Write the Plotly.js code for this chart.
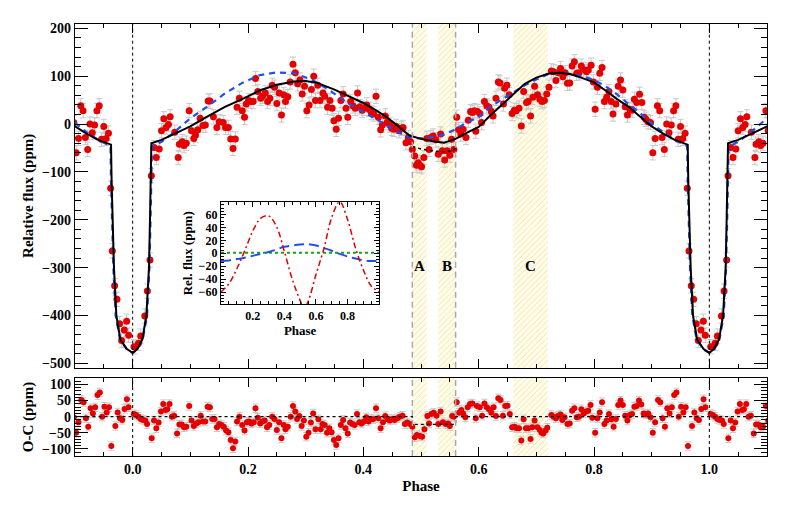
<!DOCTYPE html>
<html><head><meta charset="utf-8">
<script src="https://cdn.plot.ly/plotly-3.0.1.min.js"></script>
<style>body{margin:0;background:#fff}#chart{width:789px;height:507px}</style>
</head><body><div id="chart"></div>
<script>
// ---------- data (phase in [0,1); plotted folded over -0.1..1.1) ----------
const dataPhase = [0.0024,0.010,0.014,0.021,0.0255,0.030,0.0324,0.037,0.041,0.046,0.050,0.054,0.058,0.062,0.065,0.073,0.079,0.081,0.086,0.089,0.093,0.098,0.102,0.106,0.109,0.113,0.117,0.122,0.126,0.131,0.134,0.140,0.146,0.150,0.157,0.161,0.166,0.170,0.174,0.178,0.181,0.185,0.190,0.194,0.197,0.201,0.205,0.209,0.213,0.217,0.222,0.225,0.230,0.234,0.238,0.242,0.246,0.250,0.254,0.258,0.262,0.265,0.269,0.273,0.278,0.282,0.286,0.290,0.294,0.298,0.302,0.306,0.310,0.314,0.317,0.321,0.325,0.330,0.333,0.338,0.342,0.346,0.349,0.353,0.357,0.361,0.365,0.370,0.373,0.378,0.382,0.386,0.390,0.394,0.398,0.401,0.406,0.410,0.414,0.418,0.422,0.426,0.430,0.433,0.438,0.441,0.446,0.449,0.453,0.457,0.462,0.466,0.469,0.474,0.478,0.482,0.485,0.489,0.492,0.495,0.498,0.501,0.505,0.510,0.514,0.517,0.521,0.526,0.530,0.534,0.537,0.541,0.545,0.550,0.553,0.557,0.562,0.565,0.569,0.573,0.578,0.582,0.586,0.589,0.593,0.595,0.598,0.602,0.605,0.610,0.614,0.618,0.622,0.625,0.630,0.634,0.637,0.643,0.645,0.649,0.653,0.658,0.662,0.665,0.670,0.674,0.678,0.683,0.686,0.690,0.694,0.697,0.702,0.706,0.710,0.714,0.718,0.722,0.726,0.730,0.734,0.738,0.742,0.746,0.750,0.754,0.758,0.762,0.766,0.770,0.774,0.778,0.782,0.787,0.790,0.795,0.799,0.802,0.806,0.810,0.814,0.818,0.822,0.826,0.830,0.833,0.838,0.842,0.846,0.850,0.854,0.858,0.862,0.866,0.870,0.874,0.879,0.883,0.887,0.890,0.894,0.898,0.902,0.906,0.910,0.914,0.918,0.922,0.926,0.930,0.934,0.938,0.942,0.946,0.950,0.954,0.958,0.9618,0.9647,0.9687,0.9728,0.9774,0.9809,0.9855,0.9896,0.993];
const dataFlux = [-465,-458,-443,-401,-349,-284,-108,-49,-70,-52,-14,11,-7,-1,15,-17,-70,-42,-37,-45,-40,28,-14,-30,-23,-12,12,-3,-2,48,48,15,-7,5,3,-7,-7,-31,-51,-31,35,54,28,14,42,49,47,47,95,68,54,58,65,47,54,81,77,43,65,19,61,47,57,88,125,107,84,92,63,79,28,40,72,100,49,81,49,65,58,35,49,33,7,-11,12,49,63,33,14,47,38,33,65,36,29,33,40,31,24,21,58,14,-12,-2,17,3,-2,-9,-11,-5,-14,-9,-7,-39,-28,-37,-53,-67,-86,-81,-86,-89,-70,-30,-53,-28,-25,-33,-63,-21,-56,-75,-56,-65,-32,-53,14,-12,-21,-11,-28,8,26,24,28,-15,26,22,3,47,38,35,26,17,54,88,86,42,75,81,61,22,29,28,33,-4,68,45,47,17,56,79,61,52,47,49,63,77,111,109,91,107,116,99,107,85,86,121,130,106,107,121,114,109,113,123,88,31,77,106,118,47,56,68,47,21,42,79,92,71,36,19,31,29,52,45,62,45,14,10,5,3,-60,-30,38,28,-28,-53,0,-18,-2,28,38,-32,-5,-30,-19,-134,-265,-338,-366,-417,-452,-430,-412,-441];
const fluxError = 15;

const ocPhase = [0.002,0.006,0.010,0.014,0.018,0.022,0.025,0.033,0.037,0.041,0.045,0.049,0.053,0.057,0.060,0.064,0.068,0.072,0.077,0.081,0.085,0.089,0.093,0.098,0.102,0.106,0.110,0.114,0.118,0.122,0.126,0.130,0.134,0.138,0.142,0.146,0.150,0.154,0.158,0.162,0.166,0.170,0.174,0.178,0.181,0.185,0.190,0.194,0.198,0.202,0.206,0.210,0.213,0.217,0.221,0.225,0.229,0.233,0.237,0.242,0.246,0.250,0.254,0.258,0.262,0.265,0.269,0.274,0.278,0.282,0.285,0.289,0.293,0.297,0.301,0.305,0.309,0.313,0.317,0.322,0.326,0.329,0.333,0.337,0.341,0.345,0.349,0.353,0.357,0.361,0.365,0.369,0.373,0.377,0.381,0.385,0.389,0.393,0.397,0.401,0.405,0.409,0.413,0.417,0.422,0.426,0.430,0.434,0.438,0.442,0.446,0.450,0.454,0.459,0.463,0.468,0.472,0.476,0.481,0.485,0.489,0.493,0.498,0.502,0.506,0.511,0.514,0.518,0.522,0.527,0.530,0.534,0.538,0.543,0.547,0.550,0.554,0.557,0.562,0.566,0.570,0.573,0.577,0.581,0.585,0.589,0.595,0.597,0.602,0.606,0.610,0.614,0.618,0.622,0.626,0.630,0.634,0.638,0.642,0.646,0.650,0.654,0.658,0.662,0.666,0.670,0.674,0.678,0.682,0.686,0.690,0.693,0.697,0.702,0.706,0.709,0.712,0.716,0.719,0.726,0.730,0.734,0.738,0.742,0.745,0.749,0.754,0.758,0.762,0.766,0.770,0.774,0.778,0.782,0.786,0.790,0.794,0.797,0.802,0.806,0.810,0.814,0.818,0.822,0.826,0.830,0.834,0.838,0.842,0.846,0.850,0.854,0.858,0.862,0.866,0.870,0.874,0.878,0.882,0.886,0.890,0.894,0.898,0.902,0.906,0.911,0.915,0.919,0.923,0.927,0.931,0.935,0.939,0.943,0.947,0.951,0.955,0.959,0.963,0.970,0.974,0.978,0.982,0.986,0.990,0.993];
const ocValue = [8,5,0,-7,-10,-12,-23,-67,-12,-36,-18,16,39,21,23,39,0,3,-52,-24,-24,-33,-31,33,-12,-29,-21,-17,3,-15,-15,31,29,-7,-7,-33,-23,-26,-31,-43,-48,-72,-98,-77,-15,0,-26,-43,-17,-15,-21,-17,26,-3,-21,-15,-12,-33,-26,0,-7,-41,-17,-67,-26,-39,-31,0,33,16,-7,2,-29,-12,-62,-50,-18,10,-39,-8,-39,-23,-26,-50,-36,-48,-72,-88,-67,-26,-10,-36,-52,-18,-23,-26,8,-17,-21,-15,-2,-15,-7,-8,26,-5,-36,-17,2,-8,-12,-7,-10,-5,0,3,-23,-18,-23,-31,-64,-57,-60,-62,-39,2,-21,8,12,3,-23,16,-17,-23,-21,-29,2,0,45,12,21,10,-2,29,39,41,-5,33,29,3,41,29,23,12,29,2,57,52,3,33,34,8,-33,-31,-36,-36,-74,-8,-36,-36,-69,-33,-12,-33,-41,-50,-52,-43,-34,5,0,-5,3,7,-10,-2,-23,-21,18,26,-2,0,23,10,16,18,36,-3,-50,-5,13,45,-23,-12,8,-8,-31,-7,36,50,36,3,-12,5,8,31,33,50,38,10,7,10,-2,-50,-17,52,45,-5,-31,26,10,29,67,75,0,31,13,29,-91,-29,13,-5,-10,24,54,29];
const ocError = 13;

// full model (solid black)
const modelPhase = [0,0.008,0.0168,0.0238,0.0283,0.030,0.0315,0.0324,0.05,0.07,0.10,0.13,0.16,0.19,0.22,0.25,0.28,0.30,0.32,0.35,0.38,0.40,0.42,0.44,0.46,0.48,0.50,0.52,0.54,0.56,0.58,0.60,0.62,0.64,0.66,0.68,0.70,0.72,0.74,0.76,0.78,0.80,0.82,0.84,0.86,0.88,0.90,0.92,0.94,0.96,0.9625,0.9635,0.965,0.9676,0.9717,0.9787,0.99,1];
const modelFlux  = [-478,-470,-450,-400,-300,-200,-110,-40,-33,-22,-5,16,36,52,70,82,89,90,86,72,56,44,30,15,-4,-24,-31,-36,-39,-31,-18,-6,18,40,64,84,97,105,107,104,96,87,70,52,36,16,-5,-20,-33,-42,-43,-120,-200,-300,-400,-450,-470,-478];
// alternative model (dashed blue)
const altPhase = [0,0.009,0.0175,0.025,0.029,0.031,0.032,0.0335,0.05,0.07,0.10,0.13,0.16,0.19,0.22,0.25,0.28,0.31,0.34,0.37,0.40,0.43,0.46,0.48,0.50,0.52,0.54,0.56,0.58,0.60,0.62,0.64,0.66,0.68,0.70,0.72,0.74,0.76,0.78,0.80,0.82,0.84,0.86,0.88,0.90,0.92,0.94,0.96,0.9615,0.9625,0.964,0.9665,0.9705,0.978,0.99,1];
const altFlux  = [-478,-470,-450,-400,-300,-200,-120,-48,-37,-19,12,37,64,86,102,108,106,93,72,46,25,5,-17,-28,-30,-27,-22,-11,4,14,36,51,66,81,93,104,107,105,100,92,79,62,42,23,1,-17,-33,-44,-46,-120,-200,-300,-400,-450,-471,-478];
// model with eclipse (dotted black)
const eclPhase = [0.485,0.50,0.52,0.54,0.555,0.56];
const eclFlux  = [-47,-52,-56,-58,-56,-50];
// O-C reference (dotted)
const ocRefPhase = [0,0.485,0.485,0.56,0.56,1];
const ocRefValue = [0,0,-24,-24,0,0];

// highlighted phase windows
const regionStart = [0.485,0.53,0.66];
const regionEnd   = [0.51,0.56,0.72];
const regionLabel = ['A','B','C'];
const edgePhase   = [0.485,0.56];
const transitPhase = [0,1];

// inset components
const insetPhase = [0,0.05,0.10,0.15,0.20,0.25,0.30,0.35,0.40,0.45,0.50,0.525,0.55,0.60,0.65,0.70,0.75,0.80,0.85,0.90,0.95,1.0];
const insetRed   = [-60,-47,-24,4,34,54,58,42,3,-40,-73,-85,-75,-33,7,56,80,52,8,-26,-51,-60];
const insetBlue  = [-12,-11,-9,-7,-4,-1,2,6,10,12,13.5,14,14,12,8,4,-1,-5,-8,-11,-12,-12];
const insetGreen = [1,1,1,1,1,1,1,1,1,1,1,1,1,1,1,1,1,1,1,1,1,1];

// ---------- helpers ----------
function fold(xs, ys){
  const X=[],Y=[];
  [-1,0,1].forEach(s=>xs.forEach((x,i)=>{X.push(+(x+s).toFixed(5));Y.push(ys[i]);}));
  return [X,Y];
}
const FONT = 'Liberation Serif, Times New Roman, serif';
const RED = '#e50000';

const traces = [];
// hatched windows (both panels)
regionStart.forEach((s,i)=>{
  const e = regionEnd[i];
  ['y','y2'].forEach((ya,k)=>{
    traces.push({x:[s,e,e,s,s], y:[-1e4,-1e4,1e4,1e4,-1e4], xaxis:k?'x2':'x', yaxis:ya,
      mode:'lines', fill:'toself', line:{width:0}, fillcolor:'#fffdf0',
      fillpattern:{shape:'/', fgcolor:'#f6df86', bgcolor:'#fffdf0', size:4, solidity:0.22},
      hoverinfo:'skip', showlegend:false});
  });
});
// main data
let [dx,dy] = fold(dataPhase, dataFlux);
traces.push({x:dx, y:dy, xaxis:'x', yaxis:'y', mode:'markers', type:'scatter',
  marker:{color:RED, size:7}, error_y:{type:'constant', value:fluxError, color:'#c8c8c8', thickness:1, width:3},
  showlegend:false});
// models
let [ax,ay] = fold(altPhase, altFlux);
traces.push({x:ax, y:ay, xaxis:'x', yaxis:'y', mode:'lines', line:{color:'#1f4ff0', width:2.2, dash:'6px,5px'}, showlegend:false});
let [mx,my] = fold(modelPhase, modelFlux);
traces.push({x:mx, y:my, xaxis:'x', yaxis:'y', mode:'lines', line:{color:'black', width:2}, showlegend:false});
traces.push({x:eclPhase, y:eclFlux, xaxis:'x', yaxis:'y', mode:'lines', line:{color:'black', width:1.5, dash:'dot'}, showlegend:false});
// residuals
let [ox,oy] = fold(ocPhase, ocValue);
traces.push({x:ox, y:oy, xaxis:'x2', yaxis:'y2', mode:'markers',
  marker:{color:RED, size:6}, error_y:{type:'constant', value:ocError, color:'#c8c8c8', thickness:1, width:3},
  showlegend:false});
let [rx,ry] = fold(ocRefPhase, ocRefValue);
traces.push({x:rx, y:ry, xaxis:'x2', yaxis:'y2', mode:'lines', line:{color:'black', width:1.3, dash:'dot'}, showlegend:false});
// inset
traces.push({x:insetPhase, y:insetGreen, xaxis:'x3', yaxis:'y3', mode:'lines', line:{color:'#1aa31a', width:2, dash:'dot'}, showlegend:false});
traces.push({x:insetPhase, y:insetBlue, xaxis:'x3', yaxis:'y3', mode:'lines', line:{color:'#1f4ff0', width:2, dash:'10px,5px', shape:'spline'}, showlegend:false});
traces.push({x:insetPhase, y:insetRed, xaxis:'x3', yaxis:'y3', mode:'lines', line:{color:'#e00000', width:1.5, dash:'6px,3px,2px,3px', shape:'spline'}, showlegend:false});

const tickFont = {family:FONT, size:14, color:'black', weight:'bold'};
const insetFont = {family:FONT, size:12, color:'black', weight:'bold'};
function axisBase(extra){
  return Object.assign({showline:true, linecolor:'black', linewidth:1.2, mirror:'allticks', ticks:'inside',
    tickcolor:'black', tickwidth:1, showgrid:false, zeroline:false, tickfont:tickFont}, extra);
}
const shapes = [];
transitPhase.forEach(p=>{
  [['x','y domain'],['x2','y2 domain']].forEach(([xr,yr])=>{
    shapes.push({type:'line', xref:xr, yref:yr, x0:p, x1:p, y0:0, y1:1, line:{color:'black', width:1, dash:'dot'}});
  });
});
edgePhase.forEach(p=>{
  [['x','y domain'],['x2','y2 domain']].forEach(([xr,yr])=>{
    shapes.push({type:'line', xref:xr, yref:yr, x0:p, x1:p, y0:0, y1:1, line:{color:'#a8a8a8', width:1.5, dash:'6px,4px'}});
  });
});
const annotations = regionLabel.map((t,i)=>({xref:'x', yref:'y', x:(regionStart[i]+regionEnd[i])/2, y:-297,
  text:t, showarrow:false, font:{family:FONT, size:15, color:'black', weight:'bold'}}));

const layout = {
  width:789, height:507, margin:{l:75, r:22, t:24, b:51},
  paper_bgcolor:'white', plot_bgcolor:'white', showlegend:false,
  xaxis: axisBase({domain:[0,1], anchor:'y', range:[-0.1,1.1], tick0:0, dtick:0.2, ticklen:9, showticklabels:false,
    minor:{dtick:0.05, ticklen:4, ticks:'inside', tickcolor:'black'}}),
  xaxis2: axisBase({domain:[0,1], anchor:'y2', range:[-0.1,1.1], tick0:0, dtick:0.2, ticklen:9, tickformat:'.1f',
    minor:{dtick:0.05, ticklen:4, ticks:'inside', tickcolor:'black'},
    title:{text:'Phase', font:{family:FONT, size:15, color:'black', weight:'bold'}, standoff:4}}),
  yaxis: axisBase({domain:[0.2044,1], anchor:'x', range:[-509,209], tick0:0, dtick:100, ticklen:13,
    minor:{dtick:20, ticklen:6, ticks:'inside', tickcolor:'black'},
    title:{text:'Relative flux (ppm)', font:{family:FONT, size:15, color:'black', weight:'bold'}, standoff:4}}),
  yaxis2: axisBase({domain:[0,0.1806], anchor:'x2', range:[-122,120], tick0:0, dtick:50, ticklen:13,
    minor:{dtick:10, ticklen:6, ticks:'inside', tickcolor:'black'},
    title:{text:'O-C (ppm)', font:{family:FONT, size:15, color:'black', weight:'bold'}, standoff:4}}),
  xaxis3: axisBase({domain:[0.211,0.4397], anchor:'y3', range:[0,1], tickvals:[0.2,0.4,0.6,0.8], ticktext:['0.2','0.4','0.6','0.8'], ticklen:5, tickfont:insetFont,
    minor:{dtick:0.05, ticklen:3, ticks:'inside', tickcolor:'black'},
    title:{text:'Phase', font:{family:FONT, size:13, color:'black', weight:'bold'}, standoff:2}}),
  yaxis3: axisBase({domain:[0.3512,0.5873], anchor:'x3', range:[-79,79], tickvals:[-60,-40,-20,0,20,40,60], ticklen:5, tickfont:insetFont,
    minor:{dtick:5, ticklen:3, ticks:'inside', tickcolor:'black'},
    title:{text:'Rel. flux (ppm)', font:{family:FONT, size:13, color:'black', weight:'bold'}, standoff:3}}),
  shapes, annotations
};
Plotly.newPlot('chart', traces, layout, {staticPlot:true});
</script>
</body></html>
